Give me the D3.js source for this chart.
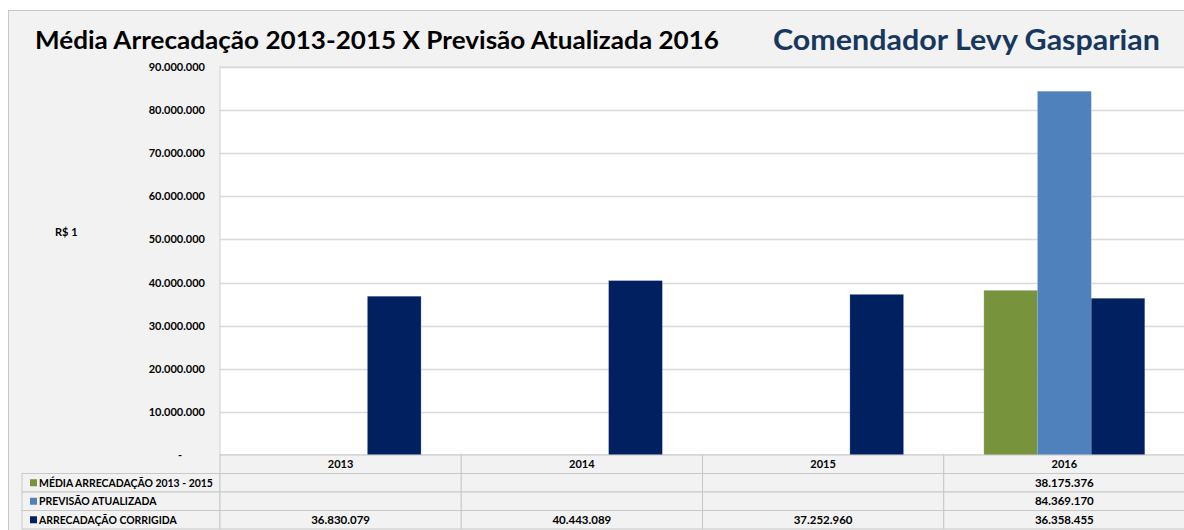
<!DOCTYPE html>
<html><head><meta charset="utf-8">
<script src="https://cdn.jsdelivr.net/npm/d3@7"></script>
<style>
html,body{margin:0;padding:0;background:#fff;}
svg{display:block;}
text{font-family:Lato,"Open Sans",sans-serif;}
</style></head>
<body><svg id="chart" width="1184" height="530"></svg>
<script>
const categories = ["2013","2014","2015","2016"];
const seriesNames = ["MÉDIA ARRECADAÇÃO 2013 - 2015","PREVISÃO ATUALIZADA","ARRECADAÇÃO CORRIGIDA"];
const seriesColors = ["#77933c","#4f81bd","#002060"];
const mediaValues = [null,null,null,38175376];
const previsaoValues = [null,null,null,84369170];
const corrigidaValues = [36830079,40443089,37252960,36358455];
const yTicks = [0,10000000,20000000,30000000,40000000,50000000,60000000,70000000,80000000,90000000];
const chartTitle = "Média Arrecadação 2013-2015 X Previsão Atualizada 2016";
const chartSubtitle = "Comendador Levy Gasparian";
const yAxisLabel = "R$ 1";

(function(){
const series = [mediaValues, previsaoValues, corrigidaValues];
const svg = d3.select("#chart");
const W = 1184, H = 530;

svg.append("rect").attr("x",8.5).attr("y",10.5).attr("width",W).attr("height",H)
  .attr("fill","#f2f2f2").attr("stroke","#c8c8c8");

svg.append("text").attr("x",35).attr("y",49).attr("font-size",25).attr("font-weight","bold")
  .attr("fill","#000").attr("textLength",684).attr("lengthAdjust","spacingAndGlyphs").text(chartTitle);
svg.append("text").attr("x",773).attr("y",50).attr("font-size",29).attr("font-weight","bold")
  .attr("fill","#17375e").attr("textLength",387).attr("lengthAdjust","spacingAndGlyphs").text(chartSubtitle);

const pL = 220, pR = 1185, pT = 67, pB = 455;
const x = d3.scaleBand().domain(categories).range([pL,pR]).paddingInner(0).paddingOuter(0);
const y = d3.scaleLinear().domain([0,90000000]).range([pB,pT]);
const bw = x.bandwidth();
const groupW = bw*3/(3+1.5);
const xs = d3.scaleBand().domain(d3.range(3)).range([0,groupW]);

svg.append("rect").attr("x",pL).attr("y",pT).attr("width",pR-pL).attr("height",pB-pT)
  .attr("fill","#fff").attr("stroke","#d0d0d0");

svg.append("g").selectAll("line").data(yTicks).join("line")
  .attr("x1",pL).attr("x2",pR).attr("y1",d=>Math.round(y(d))+0.5).attr("y2",d=>Math.round(y(d))+0.5)
  .attr("stroke","#d9d9d9").attr("stroke-width",1.5);

const fmt = d => d===0 ? "-" : d3.format(",")(d).replace(/,/g,".");
svg.append("g").selectAll("text").data(yTicks).join("text")
  .attr("x",d=>d===0?182:205).attr("y",d=>y(d)+4).attr("text-anchor","end")
  .attr("font-size",11).attr("font-weight","bold").attr("fill","#000").text(fmt);

svg.append("text").attr("x",55).attr("y",236).attr("font-size",11).attr("font-weight","bold").text(yAxisLabel);

series.forEach((vals,si)=>{
  svg.append("g").selectAll("rect").data(categories.map((c,i)=>({c,v:vals[i]})).filter(d=>d.v!=null)).join("rect")
    .attr("x",d=>x(d.c)+(bw-groupW)/2+xs(si)).attr("width",xs.bandwidth())
    .attr("y",d=>y(d.v)).attr("height",d=>pB-y(d.v))
    .attr("fill",seriesColors[si]).attr("stroke","#aab8d0").attr("stroke-width",0.5).attr("stroke-opacity",0.6);
});

const rowH = 18.5;
const tbl = svg.append("g");
const tableLeft = 22;
categories.forEach((c,i)=>{
  tbl.append("rect").attr("x",x(c)).attr("y",pB).attr("width",bw).attr("height",rowH)
    .attr("fill","#f2f2f2").attr("stroke","#c8c8c8");
  tbl.append("text").attr("x",x(c)+bw/2).attr("y",pB+rowH/2+4).attr("text-anchor","middle")
    .attr("font-size",11).attr("font-weight","bold").text(c);
});
const valFmt = d => d==null ? "" : d3.format(",")(d).replace(/,/g,".");
series.forEach((vals,si)=>{
  const ry = pB + rowH*(si+1);
  tbl.append("rect").attr("x",tableLeft).attr("y",ry).attr("width",pL-tableLeft).attr("height",rowH)
    .attr("fill","#f2f2f2").attr("stroke","#c8c8c8");
  tbl.append("rect").attr("x",tableLeft+8).attr("y",ry+rowH/2-3.5).attr("width",7).attr("height",7).attr("fill",seriesColors[si]);
  const lbl = tbl.append("text").attr("x",tableLeft+17).attr("y",ry+rowH/2+4).attr("font-size",11).attr("font-weight","bold")
    .text(seriesNames[si]);
  const len = lbl.node().getComputedTextLength();
  lbl.attr("textLength",len*0.95).attr("lengthAdjust","spacingAndGlyphs");
  categories.forEach((c,i)=>{
    tbl.append("rect").attr("x",x(c)).attr("y",ry).attr("width",bw).attr("height",rowH)
      .attr("fill","#f2f2f2").attr("stroke","#c8c8c8");
    tbl.append("text").attr("x",x(c)+bw/2).attr("y",ry+rowH/2+4).attr("text-anchor","middle")
      .attr("font-size",11.5).attr("font-weight","bold").text(valFmt(vals[i]));
  });
});
})();
</script></body></html>
